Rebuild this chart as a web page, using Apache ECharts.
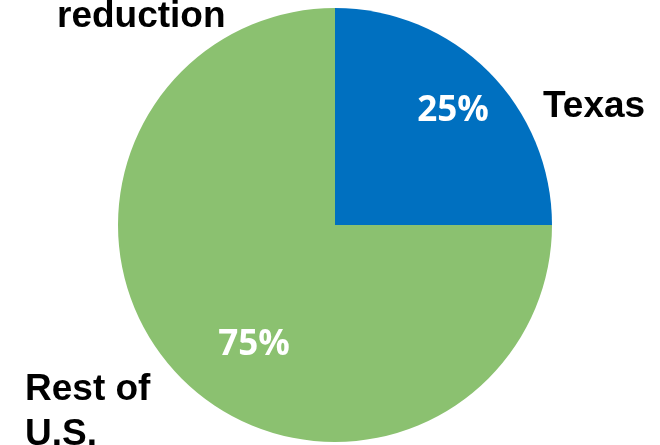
<!DOCTYPE html>
<html>
<head>
<meta charset="utf-8">
<script src="https://cdn.jsdelivr.net/npm/echarts@6/dist/echarts.min.js"></script>
<style>html,body{margin:0;padding:0;background:#fff}#c{width:660px;height:445px}</style>
</head>
<body>
<div id="c"></div>
<script>
var categories = ['Texas', 'Rest of\nU.S.'];
var values = [25, 75];
var colors = ['#0070C0', '#8BC170'];
var titleText = 'reduction';

var chart = echarts.init(document.getElementById('c'), null, {renderer: 'canvas'});
var labelPos = [[453, 111], [254, 345]];
var nameFont = 'bold 37px "Liberation Sans", Arial';
chart.setOption({
  animation: false,
  backgroundColor: '#ffffff',
  graphic: [
    {type: 'text', style: {x: 57, y: 17, text: titleText, font: nameFont, fill: '#000', verticalAlign: 'middle', align: 'left'}},
    {type: 'text', style: {x: 543, y: 107, text: categories[0], font: nameFont, fill: '#000', verticalAlign: 'middle', align: 'left'}},
    {type: 'text', style: {x: 25, y: 367, text: categories[1], font: nameFont, lineHeight: 45, fill: '#000', verticalAlign: 'top', align: 'left'}}
  ],
  series: [{
    type: 'pie',
    center: [335, 225],
    radius: [0, 217],
    startAngle: 90,
    clockwise: true,
    silent: true,
    emphasis: {disabled: true},
    itemStyle: {borderWidth: 0},
    label: {
      show: true,
      position: 'inside',
      formatter: '{c}%',
      color: '#fff',
      fontFamily: '"Open Sans"',
      fontWeight: 'bold',
      fontSize: 35
    },
    labelLine: {show: false},
    labelLayout: function (p) {
      return {x: labelPos[p.dataIndex][0], y: labelPos[p.dataIndex][1], align: 'center', verticalAlign: 'middle'};
    },
    data: values.map(function (v, i) {
      return {value: v, name: categories[i], itemStyle: {color: colors[i]}};
    })
  }]
});
</script>
</body>
</html>
